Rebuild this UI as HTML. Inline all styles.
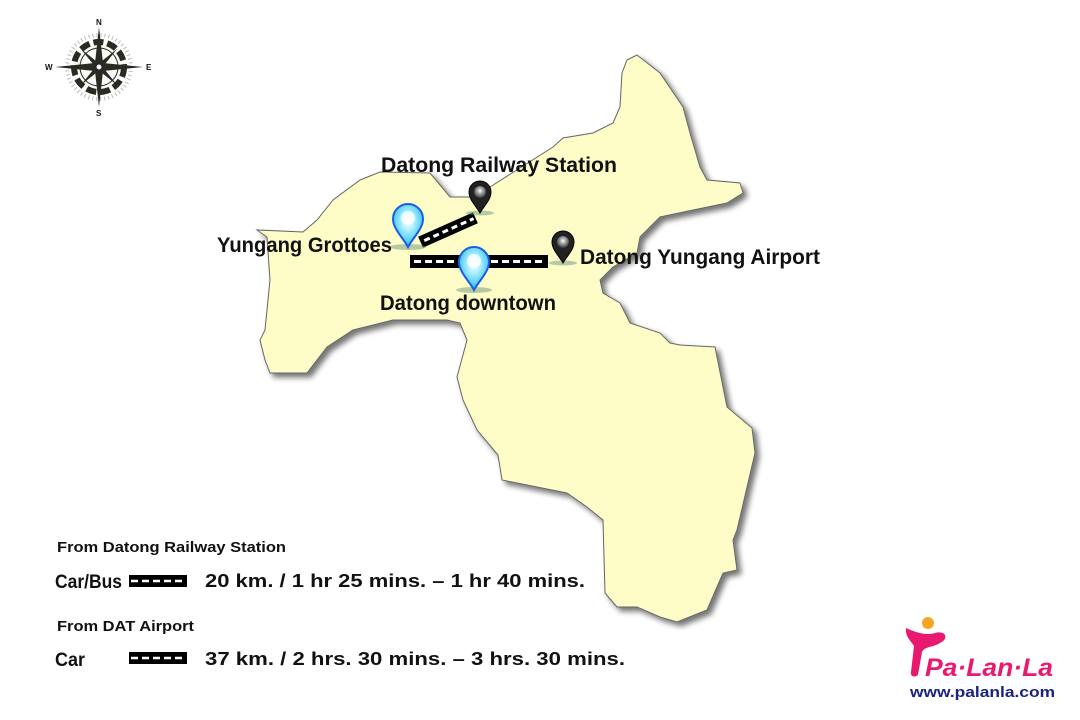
<!DOCTYPE html>
<html><head><meta charset="utf-8"><style>
html,body{margin:0;padding:0;background:#fff;}
svg{display:block;}
text{font-family:"Liberation Sans",sans-serif;font-weight:bold;fill:#111;}
</style></head><body>
<svg width="1080" height="720" viewBox="0 0 1080 720" xmlns="http://www.w3.org/2000/svg">
<defs>
<filter id="sh" x="-10%" y="-10%" width="130%" height="130%"><feGaussianBlur in="SourceAlpha" stdDeviation="3"/><feOffset dx="4" dy="4"/><feComponentTransfer><feFuncA type="linear" slope="0.55"/></feComponentTransfer><feMerge><feMergeNode/><feMergeNode in="SourceGraphic"/></feMerge></filter>
<radialGradient id="bp" cx="50%" cy="40%" r="60%"><stop offset="0" stop-color="#fff"/><stop offset="0.35" stop-color="#aef0ff"/><stop offset="1" stop-color="#22b8f0"/></radialGradient>
<radialGradient id="kp" cx="50%" cy="40%" r="60%"><stop offset="0" stop-color="#fff"/><stop offset="0.3" stop-color="#bbb"/><stop offset="1" stop-color="#333"/></radialGradient>
<g id="bpin"><ellipse cx="0" cy="0" rx="18" ry="3" fill="#5a8a7a" opacity="0.45"/><path d="M0,0 C-4,-8 -15,-18 -15,-28 A15,15 0 1 1 15,-28 C15,-18 4,-8 0,0Z" fill="url(#bp)" stroke="#1a5fe0" stroke-width="2"/><circle cx="0" cy="-29" r="7" fill="#fff" opacity="0.8"/></g>
<g id="kpin"><ellipse cx="0" cy="0" rx="14" ry="2.5" fill="#5a8a7a" opacity="0.45"/><path d="M0,0 C-3,-6 -11,-13 -11,-21 A11,11 0 1 1 11,-21 C11,-13 3,-6 0,0Z" fill="#222" stroke="#000" stroke-width="1"/><circle cx="0" cy="-21" r="6" fill="url(#kp)"/></g>
</defs>
<path filter="url(#sh)" fill="#fefdc7" stroke="#666" stroke-width="1" d="M637,55 L660,73 683,107 690,133 700,167 707,180 740,183 743,193 727,203 693,210 660,217 640,237 637,253 613,267 600,280 603,293 620,303 630,323 660,333 670,343 680,345 715,347 727,407 752,428 755,453 737,530 733,540 737,570 723,573 707,610 677,622 660,617 637,607 617,607 605,593 603,520 587,507 567,493 517,483 502,480 498,455 477,430 463,400 457,377 467,340 460,323 447,320 393,320 353,330 327,347 307,373 270,373 265,360 260,340 265,330 270,280 267,237 257,230 303,232 317,220 333,200 360,180 380,172 430,173 450,197 470,197 490,187 553,147 563,138 593,133 613,123 620,107 622,73 627,60 Z"/>
<g transform="translate(448,230) rotate(-24)"><rect x="-30" y="-6" width="60" height="12" fill="#000"/><line x1="-26" y1="0" x2="28" y2="0" stroke="#fff" stroke-width="3" stroke-dasharray="6,4"/></g>
<rect x="410" y="255" width="138" height="13" fill="#000"/>
<line x1="414" y1="261.5" x2="546" y2="261.5" stroke="#fff" stroke-width="3" stroke-dasharray="7,4"/>
<use href="#bpin" x="408" y="247"/>
<use href="#bpin" x="474" y="290"/>
<use href="#kpin" x="480" y="213"/>
<use href="#kpin" x="563" y="263"/>
<text x="381" y="172" font-size="21" textLength="236" lengthAdjust="spacingAndGlyphs">Datong  Railway  Station</text>
<text x="217" y="252" font-size="21" textLength="175" lengthAdjust="spacingAndGlyphs">Yungang  Grottoes</text>
<text x="580" y="264" font-size="21" textLength="240" lengthAdjust="spacingAndGlyphs">Datong  Yungang  Airport</text>
<text x="380" y="310" font-size="21" textLength="176" lengthAdjust="spacingAndGlyphs">Datong  downtown</text>
<text x="57" y="552" font-size="15" textLength="229" lengthAdjust="spacingAndGlyphs">From  Datong  Railway  Station</text>
<text x="55" y="588" font-size="19" textLength="67" lengthAdjust="spacingAndGlyphs">Car/Bus</text>
<rect x="129" y="575" width="58" height="12" fill="#000"/><line x1="131" y1="581" x2="186" y2="581" stroke="#fff" stroke-width="2.5" stroke-dasharray="7,4"/>
<text x="205" y="587" font-size="18" textLength="380" lengthAdjust="spacingAndGlyphs">20  km.  /  1  hr  25  mins.  –  1  hr  40  mins.</text>
<text x="57" y="631" font-size="15" textLength="137" lengthAdjust="spacingAndGlyphs">From  DAT  Airport</text>
<text x="55" y="666" font-size="19" textLength="30" lengthAdjust="spacingAndGlyphs">Car</text>
<rect x="129" y="652" width="58" height="12" fill="#000"/><line x1="131" y1="658" x2="186" y2="658" stroke="#fff" stroke-width="2.5" stroke-dasharray="7,4"/>
<text x="205" y="665" font-size="18" textLength="420" lengthAdjust="spacingAndGlyphs">37  km.  /   2  hrs.  30  mins.  –  3  hrs.  30  mins.</text>
<g transform="translate(99,67)">
<circle r="32" fill="none" stroke="#bbb" stroke-width="4" stroke-dasharray="1,3"/>
<circle r="25" fill="#fafaf6" stroke="#2a2a22" stroke-width="6" stroke-dasharray="10,4"/>
<circle r="19" fill="none" stroke="#2a2a22" stroke-width="1"/>
<g fill="#2a2a22">
<polygon points="0,-40 4,-4 0,0 -4,-4"/><polygon points="0,40 4,4 0,0 -4,4"/>
<polygon points="-44,0 -4,-4 0,0 -4,4"/><polygon points="44,0 4,-4 0,0 4,4"/>
<g transform="rotate(45)"><polygon points="0,-26 2.5,-3 -2.5,-3"/><polygon points="0,26 2.5,3 -2.5,3"/><polygon points="-26,0 -3,-2.5 -3,2.5"/><polygon points="26,0 3,-2.5 3,2.5"/></g>
</g>
<circle r="3" fill="#fff" stroke="#222"/>
<text x="-3" y="-42" font-size="8">N</text><text x="-3" y="49" font-size="8">S</text>
<text x="-54" y="3" font-size="8">W</text><text x="47" y="3" font-size="8">E</text>
</g>
<circle cx="928" cy="623" r="6" fill="#f5a623"/>
<path d="M906,628 C915,632 925,636 935,633 C945,630 950,638 940,643 C932,648 925,646 922,652 L918,675 C914,678 910,676 911,672 L914,646 C910,640 905,636 906,628Z" fill="#e8196e"/>
<text x="925" y="676" font-size="25" font-style="italic" textLength="128" lengthAdjust="spacingAndGlyphs" style="fill:#e8196e">Pa·Lan·La</text>
<text x="910" y="697" font-size="15" textLength="145" lengthAdjust="spacingAndGlyphs" style="fill:#1a237e">www.palanla.com</text>
</svg>
</body></html>
